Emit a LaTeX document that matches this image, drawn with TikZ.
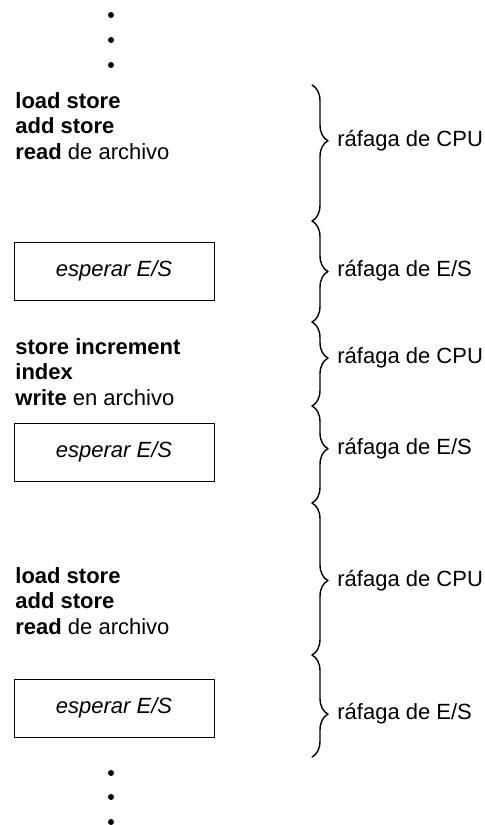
\documentclass[tikz,border=0pt]{standalone}
\usepackage{fontspec}
\setmainfont{Liberation Sans}
\usetikzlibrary{decorations.pathreplacing,positioning}

\begin{document}
\begin{tikzpicture}[x=0.5pt,y=-0.5pt,line cap=round,line join=round,
  every node/.style={font=\fontsize{11}{12.75}\selectfont},
  code/.style={anchor=west,align=left,inner sep=0pt},
  waitbox/.style={draw,line width=0.5pt,minimum width=100pt,minimum height=29pt,
    font=\fontsize{11}{12.75}\selectfont\itshape},
  burst/.style={decorate,decoration={brace,amplitude=8pt,aspect=#1},line width=0.7pt},
  burstlabel/.style={anchor=west,inner sep=0pt}]
  \useasboundingbox (0,0) rectangle (484,825);

  % dots before and after
  \foreach \y in {15,40,65,773,797,822}{\fill (111,\y) circle (1.5pt);}

  % program text and waits
  \node[code] (cpuA) at (15,126) {\textbf{load store}\\\textbf{add store}\\\textbf{read} de archivo};
  \node[waitbox] (ioA) at (114,271) {esperar E/S};
  \node[code] (cpuB) at (15,372) {\textbf{store increment}\\\textbf{index}\\\textbf{write} en archivo};
  \node[waitbox] (ioB) at (114,452) {esperar E/S};
  \node[code] (cpuC) at (15,601) {\textbf{load store}\\\textbf{add store}\\\textbf{read} de archivo};
  \node[waitbox] (ioC) at (114,708) {esperar E/S};

  % braces
  \foreach \y [count=\i from 0] in {85,221,322,406,503,655,757}{\coordinate (b\i) at (312,\y);}
  \draw[burst=0.41] (b0) -- (b1);
  \draw[burst=0.5]  (b1) -- (b2);
  \draw[burst=0.43] (b2) -- (b3);
  \draw[burst=0.44] (b3) -- (b4);
  \draw[burst=0.51] (b4) -- (b5);
  \draw[burst=0.58] (b5) -- (b6);

  \node[burstlabel] (labA) at (337,141) {ráfaga de CPU};
  \node[burstlabel] (labB) at (337,271) {ráfaga de E/S};
  \node[burstlabel] (labC) at (337,358) {ráfaga de CPU};
  \node[burstlabel] (labD) at (337,449) {ráfaga de E/S};
  \node[burstlabel] (labE) at (337,581) {ráfaga de CPU};
  \node[burstlabel] (labF) at (337,714) {ráfaga de E/S};
\end{tikzpicture}
\end{document}
